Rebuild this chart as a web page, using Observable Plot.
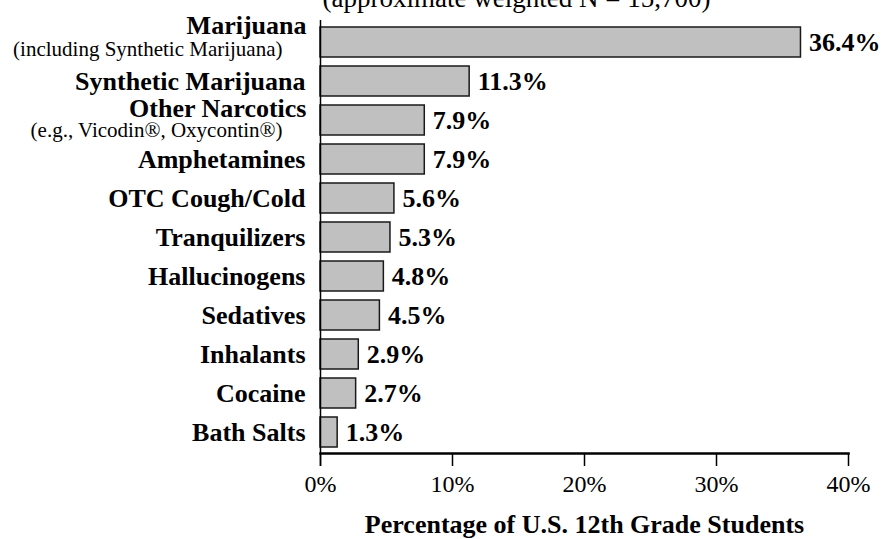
<!DOCTYPE html>
<html>
<head>
<meta charset="utf-8">
<script src="https://cdn.jsdelivr.net/npm/d3@7"></script>
<script src="https://cdn.jsdelivr.net/npm/@observablehq/plot@0.6"></script>
<style>
  html, body { margin: 0; padding: 0; background: #fff; }
  svg { display: block; }
</style>
</head>
<body>
<div id="chart"></div>
<script>
const categories = ["Marijuana", "Synthetic Marijuana", "Other Narcotics", "Amphetamines", "OTC Cough/Cold", "Tranquilizers", "Hallucinogens", "Sedatives", "Inhalants", "Cocaine", "Bath Salts"];
const values = [36.4, 11.3, 7.9, 7.9, 5.6, 5.3, 4.8, 4.5, 2.9, 2.7, 1.3];
const notes = ["(including Synthetic Marijuana)", "", "(e.g., Vicodin®, Oxycontin®)", "", "", "", "", "", "", "", ""];
const xTicks = [0, 10, 20, 30, 40];
const titleText = "(approximate weighted N = 15,700)";
const xLabel = "Percentage of U.S. 12th Grade Students";

const data = categories.map((c, i) => ({cat: c, value: values[i], note: notes[i]}));
const single = data.filter(d => !d.note);
const withNote = data.filter(d => d.note);
const font = "'Liberation Serif', 'Times New Roman', Times, serif";

const chart = Plot.plot({
  width: 883,
  height: 539,
  marginLeft: 320,
  marginRight: 35,
  marginTop: 20,
  marginBottom: 86,
  style: {fontFamily: font, color: "#000", background: "#fff", overflow: "visible"},
  x: {domain: [0, 40], axis: null},
  y: {type: "band", domain: categories, paddingInner: 0.233, paddingOuter: 0.15, axis: null},
  marks: [
    Plot.barX(data, {x: "value", y: "cat", fill: "#c0c0c0", stroke: "#1a1a1a", strokeWidth: 1.5}),
    Plot.ruleX([0], {stroke: "#000", strokeWidth: 1.5, insetBottom: -13, insetTop: 0}),
    Plot.frame({anchor: "bottom", stroke: "#000", strokeWidth: 2.5}),
    Plot.axisX({ticks: xTicks, tickFormat: d => d + "%", tickSize: 13, tickPadding: 8, fontSize: 24, stroke: "#000", strokeWidth: 1.5, label: null}),
    Plot.text(single, {y: "cat", text: "cat", frameAnchor: "left", dx: -15, textAnchor: "end", fontWeight: "bold", fontSize: 26, fill: "#000"}),
    Plot.text(withNote.slice(0, 1), {y: "cat", text: "cat", frameAnchor: "left", dx: -14, dy: -17, textAnchor: "end", fontWeight: "bold", fontSize: 26, fill: "#000"}),
    Plot.text(withNote.slice(0, 1), {y: "cat", text: "note", frameAnchor: "left", dx: -38, dy: 7, textAnchor: "end", fontSize: 21, fill: "#000"}),
    Plot.text(withNote.slice(1, 2), {y: "cat", text: "cat", frameAnchor: "left", dx: -14, dy: -12, textAnchor: "end", fontWeight: "bold", fontSize: 26, fill: "#000"}),
    Plot.text(withNote.slice(1, 2), {y: "cat", text: "note", frameAnchor: "left", dx: -38, dy: 10, textAnchor: "end", fontSize: 21, fill: "#000"}),
    Plot.text(data, {x: "value", y: "cat", text: d => d.value.toFixed(1) + "%", dx: 8, textAnchor: "start", fontWeight: "bold", fontSize: 26, fill: "#000"}),
    Plot.text([xLabel], {frameAnchor: "bottom", dy: 79, lineAnchor: "bottom", fontWeight: "bold", fontSize: 26, fill: "#000"}),
    Plot.text([titleText], {frameAnchor: "top-left", dx: 2, dy: -13.5, lineAnchor: "bottom", textAnchor: "start", fontSize: 27, fill: "#000"})
  ]
});
document.getElementById("chart").appendChild(chart);
</script>
</body>
</html>
